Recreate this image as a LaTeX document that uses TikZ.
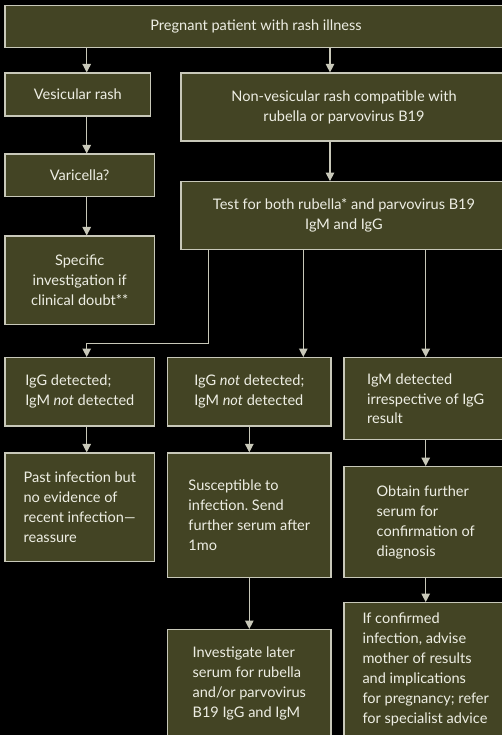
\documentclass[tikz,border=0pt]{standalone}
\usepackage{fontspec}
\setmainfont{Lato}
\frenchspacing
\usetikzlibrary{arrows.meta}
\definecolor{boxfill}{RGB}{67,68,36}
\definecolor{boxline}{RGB}{200,200,185}
\definecolor{boxtext}{RGB}{238,238,228}
\tikzset{
  fbox/.style={draw=boxline, line width=1.2bp, fill=boxfill, text=boxtext,
    rectangle, inner sep=0pt, font=\fontsize{14.6}{20}\selectfont},
  cbox/.style={fbox, align=center},
  lbox/.style={fbox, align=left},
  arr/.style={draw=boxline, line width=1.2bp, -{Triangle[width=8.5bp,length=8.5bp]}},
}
\begin{document}
\begin{tikzpicture}[x=1bp,y=-1bp]
\fill[black] (0,0) rectangle (502,735);
\useasboundingbox (0,0) rectangle (502,735);
\clip (0,0) rectangle (502,735);
\node[cbox, minimum width=502bp, minimum height=42bp] (top) at (256,26.7) {Pregnant patient with rash illness};
\node[cbox, minimum width=145.7bp, minimum height=43bp] (ves) at (77.85,94.5) {Vesicular rash};
\node[cbox, minimum width=326bp, minimum height=68bp] (nonves) at (344,107) {Non-vesicular rash compatible with\\rubella or parvovirus B19};
\node[cbox, minimum width=149.3bp, minimum height=42.3bp] (var) at (79.7,175.2) {Varicella?};
\node[cbox, minimum width=326bp, minimum height=67.6bp] (test) at (344,215.5) {Test for both rubella* and parvovirus B19\\IgM and IgG};
\node[cbox, minimum width=149.3bp, minimum height=88.3bp] (spec) at (79.7,280.2) {Specific\\investigation if\\clinical doubt**};
\node[lbox, minimum width=149.7bp, minimum height=68.3bp] (igg) at (79.8,391.8) {IgG detected;\\IgM \textit{not} detected};
\node[lbox, minimum width=163.3bp, minimum height=68.3bp] (ignot) at (249.3,391.8) {IgG \textit{not} detected;\\IgM \textit{not} detected};
\node[lbox, minimum width=163.4bp, minimum height=82bp] (igm) at (425.7,398.7) {IgM detected\\irrespective of IgG\\result};
\node[lbox, minimum width=149.7bp, minimum height=108.7bp] (past) at (79.8,507.3) {Past infection but\\no evidence of\\recent infection---\\reassure};
\node[lbox, minimum width=163.3bp, minimum height=124.7bp] (susc) at (249.3,515.3) {Susceptible to\\infection. Send\\further serum after\\1mo};
\node[lbox, minimum width=163.4bp, minimum height=111bp] (obt) at (425.7,522.2) {Obtain further\\serum for\\confirmation of\\diagnosis};
\node[lbox, minimum width=163.3bp, minimum height=107.3bp] (inv) at (249.3,683.3) {Investigate later\\serum for rubella\\and/or parvovirus\\B19 IgG and IgM};
\node[lbox, minimum width=163.4bp, minimum height=133.3bp] (conf) at (425.7,669.3) {If confirmed\\infection, advise\\mother of results\\and implications\\for pregnancy; refer\\for specialist advice};
\coordinate (xa) at (86.7,0);
\coordinate (xb) at (330,0);
\coordinate (xc) at (208.3,0);
\coordinate (xd) at (303.3,0);
\coordinate (xe) at (249.3,0);
\coordinate (xf) at (425.7,0);
\coordinate (yb) at (0,343.3);
\draw[arr] (top.south -| xa) -- (ves.north -| xa);
\draw[arr] (top.south -| xb) -- (nonves.north -| xb);
\draw[arr] (ves.south -| xa) -- (var.north -| xa);
\draw[arr] (var.south -| xa) -- (spec.north -| xa);
\draw[arr] (nonves.south -| xb) -- (test.north -| xb);
\draw[arr] (test.south -| xc) -- (xc |- yb) -- (xa |- yb) -- (igg.north -| xa);
\draw[arr] (test.south -| xd) -- (ignot.north -| xd);
\draw[arr] (test.south -| xf) -- (igm.north -| xf);
\draw[arr] (igg.south -| xa) -- (past.north -| xa);
\draw[arr] (ignot.south -| xe) -- (susc.north -| xe);
\draw[arr] (igm.south -| xf) -- (obt.north -| xf);
\draw[arr] (susc.south -| xe) -- (inv.north -| xe);
\draw[arr] (obt.south -| xf) -- (conf.north -| xf);
\end{tikzpicture}
\end{document}
